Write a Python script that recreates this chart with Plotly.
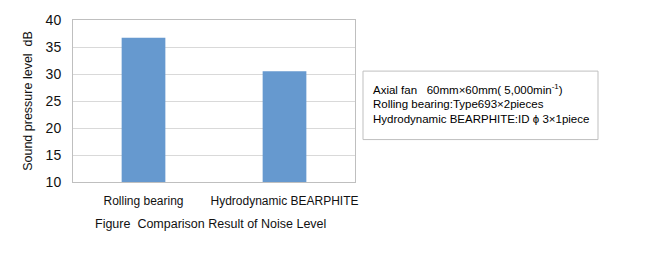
import plotly.graph_objects as go

categories = ["Rolling bearing", "Hydrodynamic BEARPHITE"]
values = [36.7, 30.5]
y_ticks = [10, 15, 20, 25, 30, 35, 40]

FONT = "Liberation Sans, Arial, sans-serif"

L, R, T, B = 73, 294, 14, 80
W, H = 649, 262
pw, ph = W - L - R, H - T - B

def px(x):
    return (x - L) / pw

def py(y):
    return (H - B - y) / ph

fig = go.Figure()
fig.add_trace(go.Bar(x=categories, y=values, marker=dict(color="#6699cf", line=dict(width=0)),
                     width=0.31))

fig.update_layout(
    width=W, height=H,
    margin=dict(l=L, r=R, t=T, b=B, pad=0),
    paper_bgcolor="white", plot_bgcolor="white",
    showlegend=False,
    font=dict(family=FONT, color="#111111", size=12),
    xaxis=dict(showgrid=False, showline=True, linecolor="#bfbfbf", linewidth=1, mirror=True,
               ticks="outside", ticklen=8, tickcolor="rgba(0,0,0,0)",
               tickfont=dict(size=12, family=FONT, color="#111111")),
    yaxis=dict(range=[10, 40], tickvals=y_ticks, showgrid=True, gridcolor="#d9d9d9", gridwidth=1,
               showline=True, linecolor="#bfbfbf", linewidth=1, mirror=True,
               ticks="outside", ticklen=8, tickcolor="rgba(0,0,0,0)",
               tickfont=dict(size=14, family=FONT, color="#111111"),
               title=dict(text="Sound pressure level  dB", font=dict(size=12.5, family=FONT, color="#111111"),
                          standoff=10)),
)

fig.add_annotation(text="Figure  Comparison Result of Noise Level", xref="paper", yref="paper",
                   x=px(210), y=py(226), xanchor="center", yanchor="middle", showarrow=False,
                   font=dict(size=12.5, family=FONT, color="#111111"))

fig.add_shape(type="rect", xref="paper", yref="paper", x0=px(363), x1=px(598), y0=py(138), y1=py(67),
              line=dict(color="#bfbfbf", width=1), fillcolor="white")

legend_lines = [
    "Axial fan   60mm\u00d760mm( 5,000min<sup>-1</sup>)",
    "Rolling bearing:Type693\u00d72pieces",
    "Hydrodynamic BEARPHITE:ID \u03d5 3\u00d71piece",
]
for i, t in enumerate(legend_lines):
    fig.add_annotation(text=t, xref="paper", yref="paper", x=px(371), y=py(86 + i * 15.5),
                       xanchor="left", yanchor="middle", showarrow=False,
                       font=dict(size=11.5, family=FONT, color="#000000"))

fig.write_html("out.html")
